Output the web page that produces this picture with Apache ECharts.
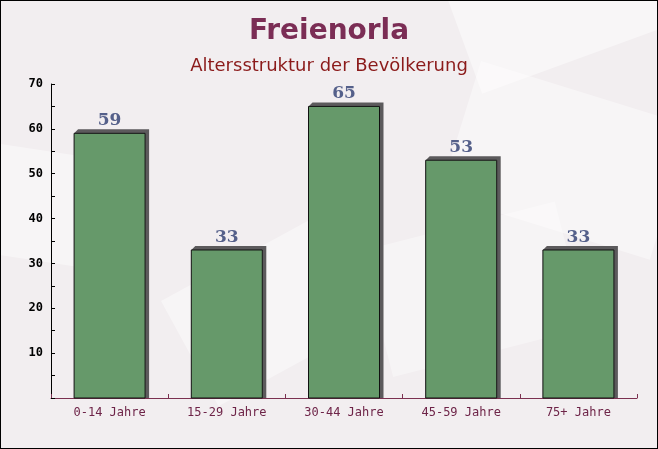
<!DOCTYPE html>
<html><head><meta charset="utf-8">
<script src="https://cdn.jsdelivr.net/npm/echarts@6/dist/echarts.min.js"></script>
<style>html,body{margin:0;padding:0;}#c{width:658px;height:449px;box-sizing:border-box;border:1px solid #000;}</style>
</head><body><div id="c"></div>
<script>
const categories = ['0-14 Jahre','15-29 Jahre','30-44 Jahre','45-59 Jahre','75+ Jahre'];
const values = [59,33,65,53,33];
const titleText = 'Freienorla';
const subtitleText = 'Altersstruktur der Bevölkerung';

const BAR_W = 71, DEPTH = 4;
const chart = echarts.init(document.getElementById('c'));
chart.setOption({
  backgroundColor: '#f2eef0',
  animation: false,
  graphic: [
    {type:'rect', shape:{x:0,y:0,width:200,height:120}, rotation:0.35, x:440, y:-20, style:{fill:'rgba(255,255,255,0.45)'}, z:-10, silent:true},
    {type:'rect', shape:{x:0,y:0,width:220,height:140}, rotation:-0.3, x:480, y:60, style:{fill:'rgba(255,255,255,0.4)'}, z:-10, silent:true},
    {type:'rect', shape:{x:0,y:0,width:180,height:120}, rotation:0.5, x:160, y:300, style:{fill:'rgba(255,255,255,0.4)'}, z:-10, silent:true},
    {type:'rect', shape:{x:0,y:0,width:160,height:110}, rotation:-0.15, x:-20, y:140, style:{fill:'rgba(255,255,255,0.4)'}, z:-10, silent:true},
    {type:'rect', shape:{x:0,y:0,width:200,height:130}, rotation:0.25, x:360, y:250, style:{fill:'rgba(255,255,255,0.35)'}, z:-10, silent:true}
  ],
  title: [
    {text: titleText, left: 'center', top: 12, textStyle:{fontFamily:'DejaVu Sans', fontWeight:'bold', fontSize:28, color:'#7b2d55'}},
    {text: subtitleText, left: 'center', top: 51, textStyle:{fontFamily:'DejaVu Sans', fontWeight:'normal', fontSize:18, color:'#8b1a1a'}}
  ],
  grid: {left: 50, right: 20, top: 83, bottom: 50, containLabel:false},
  xAxis: {
    type: 'category', data: categories,
    axisLine: {lineStyle:{color:'#7b3050', width:1}},
    axisTick: {show:true, alignWithLabel:false, length:4, inside:true, lineStyle:{color:'#7b3050'}},
    axisLabel: {fontFamily:'DejaVu Sans Mono', fontSize:12, color:'#6e2448', margin:9}
  },
  yAxis: {
    type: 'value', min:0, max:70, interval:5,
    splitLine:{show:false},
    axisLine:{show:true, lineStyle:{color:'#000'}},
    axisTick:{show:true, length:4, inside:true, lineStyle:{color:'#000'}},
    axisLabel:{fontFamily:'DejaVu Sans Mono', fontWeight:'bold', fontSize:12, color:'#000', margin:8,
      formatter: v => (v % 10 === 0 && v !== 0) ? String(v) : ''}
  },
  series: [{
    type:'custom',
    data: values.map((v,i)=>[i,v]),
    encode:{x:0,y:1},
    renderItem: function(params, api){
      const top = api.coord([api.value(0), api.value(1)]);
      const base = api.coord([api.value(0), 0]);
      const x0 = top[0] - BAR_W/2, x1 = top[0] + BAR_W/2;
      const y0 = top[1], yb = base[1];
      return {type:'group', children:[
        {type:'polygon', shape:{points:[[x0,y0],[x0+DEPTH,y0-DEPTH],[x1+DEPTH,y0-DEPTH],[x1+DEPTH,yb],[x1,yb],[x1,y0]]},
         style:{fill:'#5c5a5c', stroke:null}},
        {type:'rect', shape:{x:x0, y:y0, width:BAR_W, height:yb-y0},
         style:{fill:'#66996a', stroke:'#111', lineWidth:1}},
        {type:'text', style:{text:String(api.value(1)), x:top[0], y:y0-4, align:'center', verticalAlign:'bottom',
         font:'bold 17px "DejaVu Serif"', fill:'#55608a'}}
      ]};
    }
  }]
});
</script></body></html>
